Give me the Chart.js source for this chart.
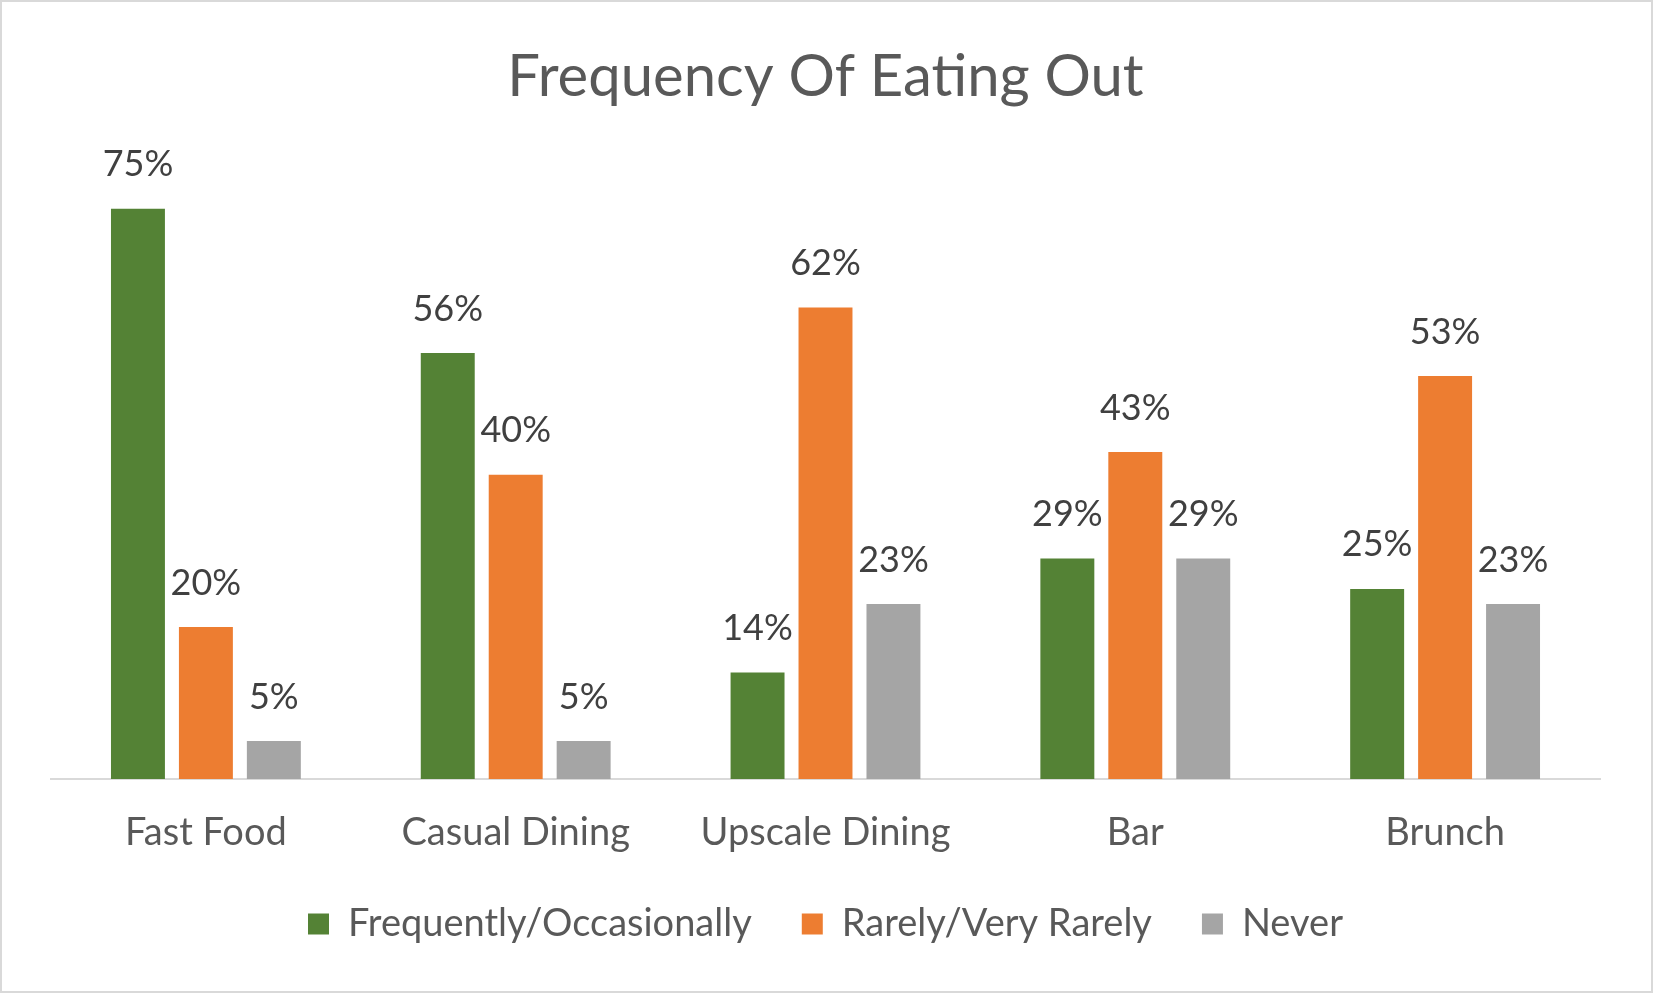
<!DOCTYPE html>
<html>
<head>
<meta charset="utf-8">
<script src="https://cdn.jsdelivr.net/npm/chart.js@4"></script>
<style>
html,body{margin:0;padding:0;background:#fff;}
#wrap{width:1653px;height:993px;position:relative;}
</style>
</head>
<body>
<div id="wrap"><canvas id="c" width="1653" height="993"></canvas></div>
<script>
const categories = ["Fast Food", "Casual Dining", "Upscale Dining", "Bar", "Brunch"];
const seriesNames = ["Frequently/Occasionally", "Rarely/Very Rarely", "Never"];
const frequently = [75, 56, 14, 29, 25];
const rarely = [20, 40, 62, 43, 53];
const never = [5, 5, 23, 29, 23];
const colors = ["#548235", "#ED7D31", "#A5A5A5"];
const yMin = 0, yMax = 80;

const FONT = "Lato, 'Open Sans', sans-serif";

const bgBorder = {
  id: 'bgBorder',
  beforeDraw(chart) {
    const ctx = chart.ctx;
    ctx.save();
    ctx.fillStyle = '#ffffff';
    ctx.fillRect(0, 0, chart.width, chart.height);
    ctx.strokeStyle = '#d9d9d9';
    ctx.lineWidth = 2;
    ctx.strokeRect(1, 1, chart.width - 2, chart.height - 2);
    ctx.restore();
  }
};

const dataLabels = {
  id: 'dataLabels',
  afterDatasetsDraw(chart) {
    const ctx = chart.ctx;
    ctx.save();
    ctx.font = "36px " + FONT;
    ctx.fillStyle = '#404040';
    ctx.textAlign = 'center';
    ctx.textBaseline = 'middle';
    chart.data.datasets.forEach((ds, i) => {
      const meta = chart.getDatasetMeta(i);
      meta.data.forEach((bar, j) => {
        ctx.fillText(ds.data[j] + '%', bar.x, bar.y - 44);
      });
    });
    ctx.restore();
  }
};

new Chart(document.getElementById('c'), {
  type: 'bar',
  data: {
    labels: categories,
    datasets: [
      { label: seriesNames[0], data: frequently, backgroundColor: colors[0] },
      { label: seriesNames[1], data: rarely, backgroundColor: colors[1] },
      { label: seriesNames[2], data: never, backgroundColor: colors[2] }
    ]
  },
  options: {
    responsive: false,
    animation: false,
    devicePixelRatio: 1,
    layout: { padding: { left: 51, right: 53, top: 0, bottom: 40 } },
    datasets: { bar: { categoryPercentage: 0.658, barPercentage: 0.794 } },
    scales: {
      x: {
        grid: { display: false, drawTicks: false },
        border: { display: true, color: '#d9d9d9', width: 2 },
        ticks: { color: '#595959', font: { family: FONT, size: 38 }, padding: 31 },
        afterFit(scale) { scale.height = 76; }
      },
      y: { display: false, min: yMin, max: yMax }
    },
    plugins: {
      title: {
        display: true,
        text: 'Frequency Of Eating Out',
        color: '#595959',
        font: { family: FONT, size: 58, weight: 'normal' },
        padding: { top: 42, bottom: 59 }
      },
      legend: {
        display: true,
        position: 'bottom',
        labels: {
          color: '#595959',
          font: { family: FONT, size: 38 },
          boxWidth: 21,
          boxHeight: 21,
          padding: 50
        }
      },
      tooltip: { enabled: false }
    }
  },
  plugins: [bgBorder, dataLabels]
});
</script>
</body>
</html>
